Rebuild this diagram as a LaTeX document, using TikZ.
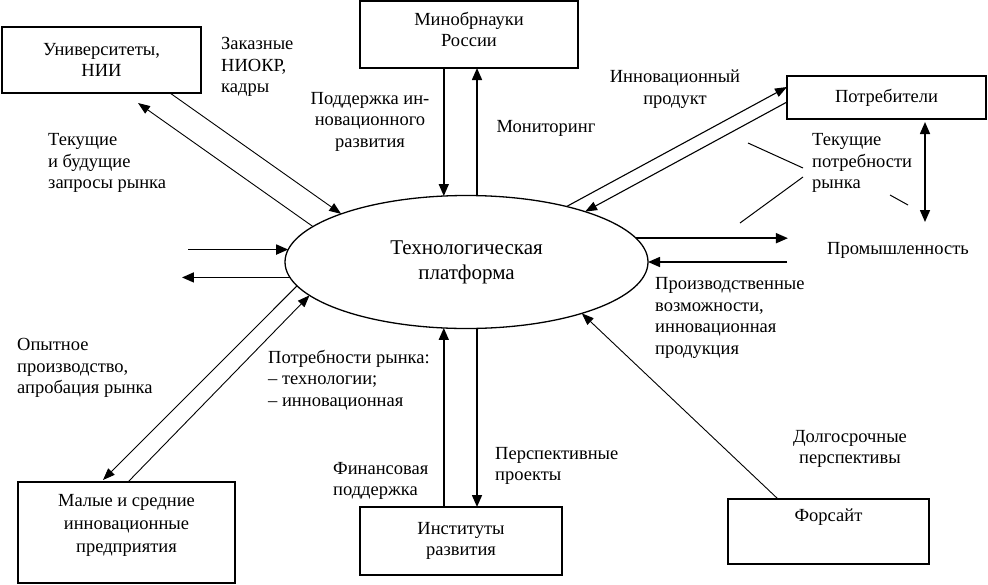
\documentclass[tikz,border=0pt]{standalone}
\usepackage{fontspec}
\setmainfont{Liberation Serif}
\usetikzlibrary{arrows.meta, positioning, shapes.geometric}
\tikzstyle{every picture} = [x=1pt, y=-1pt, font=\fontsize{18.5}{21.5}\selectfont]
\tikzstyle{box} = [draw, line width=1.8pt, inner sep=0pt, outer sep=0pt, align=center]
\tikzstyle{lbl} = [inner sep=0pt, align=left, anchor=west]
\tikzstyle{clbl} = [inner sep=0pt, align=center]
\tikzstyle{bold arrow} = [line width=1.6pt, -{Triangle[length=12pt,width=10pt]}]
\tikzstyle{thin arrow} = [line width=0.9pt, -{Triangle[length=12pt,width=9pt]}]

\begin{document}
\begin{tikzpicture}
            \useasboundingbox (0,0) rectangle (988,584);

            \node (tp) at(466.5,262) [ellipse, draw, line width=1.3pt, inner sep=0pt, outer sep=0pt, minimum width=363pt, minimum height=133pt, align=center, font=\fontsize{21}{25}\selectfont] {Технологическая\\платформа};

            \node (univ) at(101.5,60) [box, line width=2.4pt, minimum width=199pt, minimum height=66pt] {Университеты,\\НИИ};
            \node (minobr) at(469,34.5) [box, minimum width=218pt, minimum height=67pt] {};
            \node (potr) at(886.5,97.5) [box, line width=2.4pt, minimum width=199pt, minimum height=43pt] {Потребители};
            \node (maly) at(126.5,532.5) [box, minimum width=217pt, minimum height=101pt] {};
            \node (inst) at(461,541) [box, minimum width=202pt, minimum height=68pt] {Институты\\развития};
            \node (fors) at(828.5,531.5) [box, minimum width=201pt, minimum height=65pt] {};
            \node (minobr text) [clbl, below=11pt of minobr.north] {Минобрнауки\\России};
            \node (maly text) [clbl, below=12pt of maly.north, font=\fontsize{18.5}{23}\selectfont] {Малые и средние\\инновационные\\предприятия};
            \node (fors text) [clbl, below=10pt of fors.north] {Форсайт};

            \node (zakaz) at(221,67) [lbl] {Заказные\\НИОКР,\\кадры};
            \node (zapros) at(48,163) [lbl] {Текущие\\и будущие\\запросы рынка};
            \node (podderzhka) at(370,121.5) [clbl] {Поддержка ин-\\новационного\\развития};
            \node (monitor) at(546,128) [clbl] {Мониторинг};
            \node (innprod) at(675,89) [clbl] {Инновационный\\продукт};
            \node (potrneed) at(812,163) [lbl] {Текущие\\потребности\\рынка};
            \node (prom) at(898,250) [clbl] {Промышленность};
            \node (proizv) at(655,318) [lbl] {Производственные\\возможности,\\инновационная\\продукция};
            \node (opyt) at(17,368) [lbl] {Опытное\\производство,\\апробация рынка};
            \node (rynok) at(268,380) [lbl] {Потребности рынка:\\– технологии;\\– инновационная};
            \node (finans) at(333,481) [lbl] {Финансовая\\поддержка};
            \node (perspr) at(495,466) [lbl] {Перспективные\\проекты};
            \node (dolgo) at(850,449) [clbl] {Долгосрочные\\перспективы};

            \draw[thin arrow] ([xshift=68.5pt]univ.south) -- (tp.159);
            \draw[thin arrow] (tp.167.5) -- ([xshift=36.5pt,yshift=-10pt]univ.south);
            \draw[bold arrow] (tp.109 |- minobr.south) -- (tp.109);
            \draw[bold arrow] (tp.81) -- (tp.81 |- minobr.south);
            \draw[thin arrow, line width=1.1pt] (tp.29) -- ([yshift=10.5pt]potr.west);
            \draw[thin arrow, line width=1.1pt] ([yshift=-4.5pt]potr.west) -- (tp.23);
            \draw[bold arrow] ([xshift=-100pt]tp.176.2) -- (tp.176.2);
            \draw[bold arrow] (tp.185.5) -- ([xshift=-108pt]tp.185.5);
            \draw[bold arrow] (tp.8.45) -- ([xshift=152pt]tp.8.45);
            \draw[bold arrow] ([xshift=139pt]tp.east) -- (tp.east);
            \draw[thin arrow] (tp.188.5) -- ([xshift=-23.5pt,yshift=2pt]maly.north);
            \draw[thin arrow] ([xshift=1.5pt]maly.north) -- (tp.192.6);
            \draw[bold arrow] (tp.-109 |- inst.north) -- (tp.-109);
            \draw[bold arrow] (tp.-81) -- (tp.-81 |- inst.north);
            \draw[thin arrow] ([xshift=-50.5pt]fors.north) -- (tp.336.4);
            \draw[line width=1.6pt, {Triangle[length=12pt,width=10pt]}-{Triangle[length=12pt,width=10pt]}] ([xshift=38.5pt,yshift=-3pt]potr.south) -- ([xshift=38.5pt,yshift=-103pt]potr.south);

            \draw[line width=1pt] ([xshift=-64pt,yshift=20pt]potrneed.west) -- ([xshift=-9pt,yshift=-5pt]potrneed.west);
            \draw[line width=1pt] ([xshift=-9pt,yshift=-14pt]potrneed.west) -- ([xshift=-72pt,yshift=-60pt]potrneed.west);
            \draw[line width=1pt] ([xshift=78pt,yshift=-32pt]potrneed.west) -- ([xshift=96pt,yshift=-42pt]potrneed.west);

\end{tikzpicture}
\end{document}
